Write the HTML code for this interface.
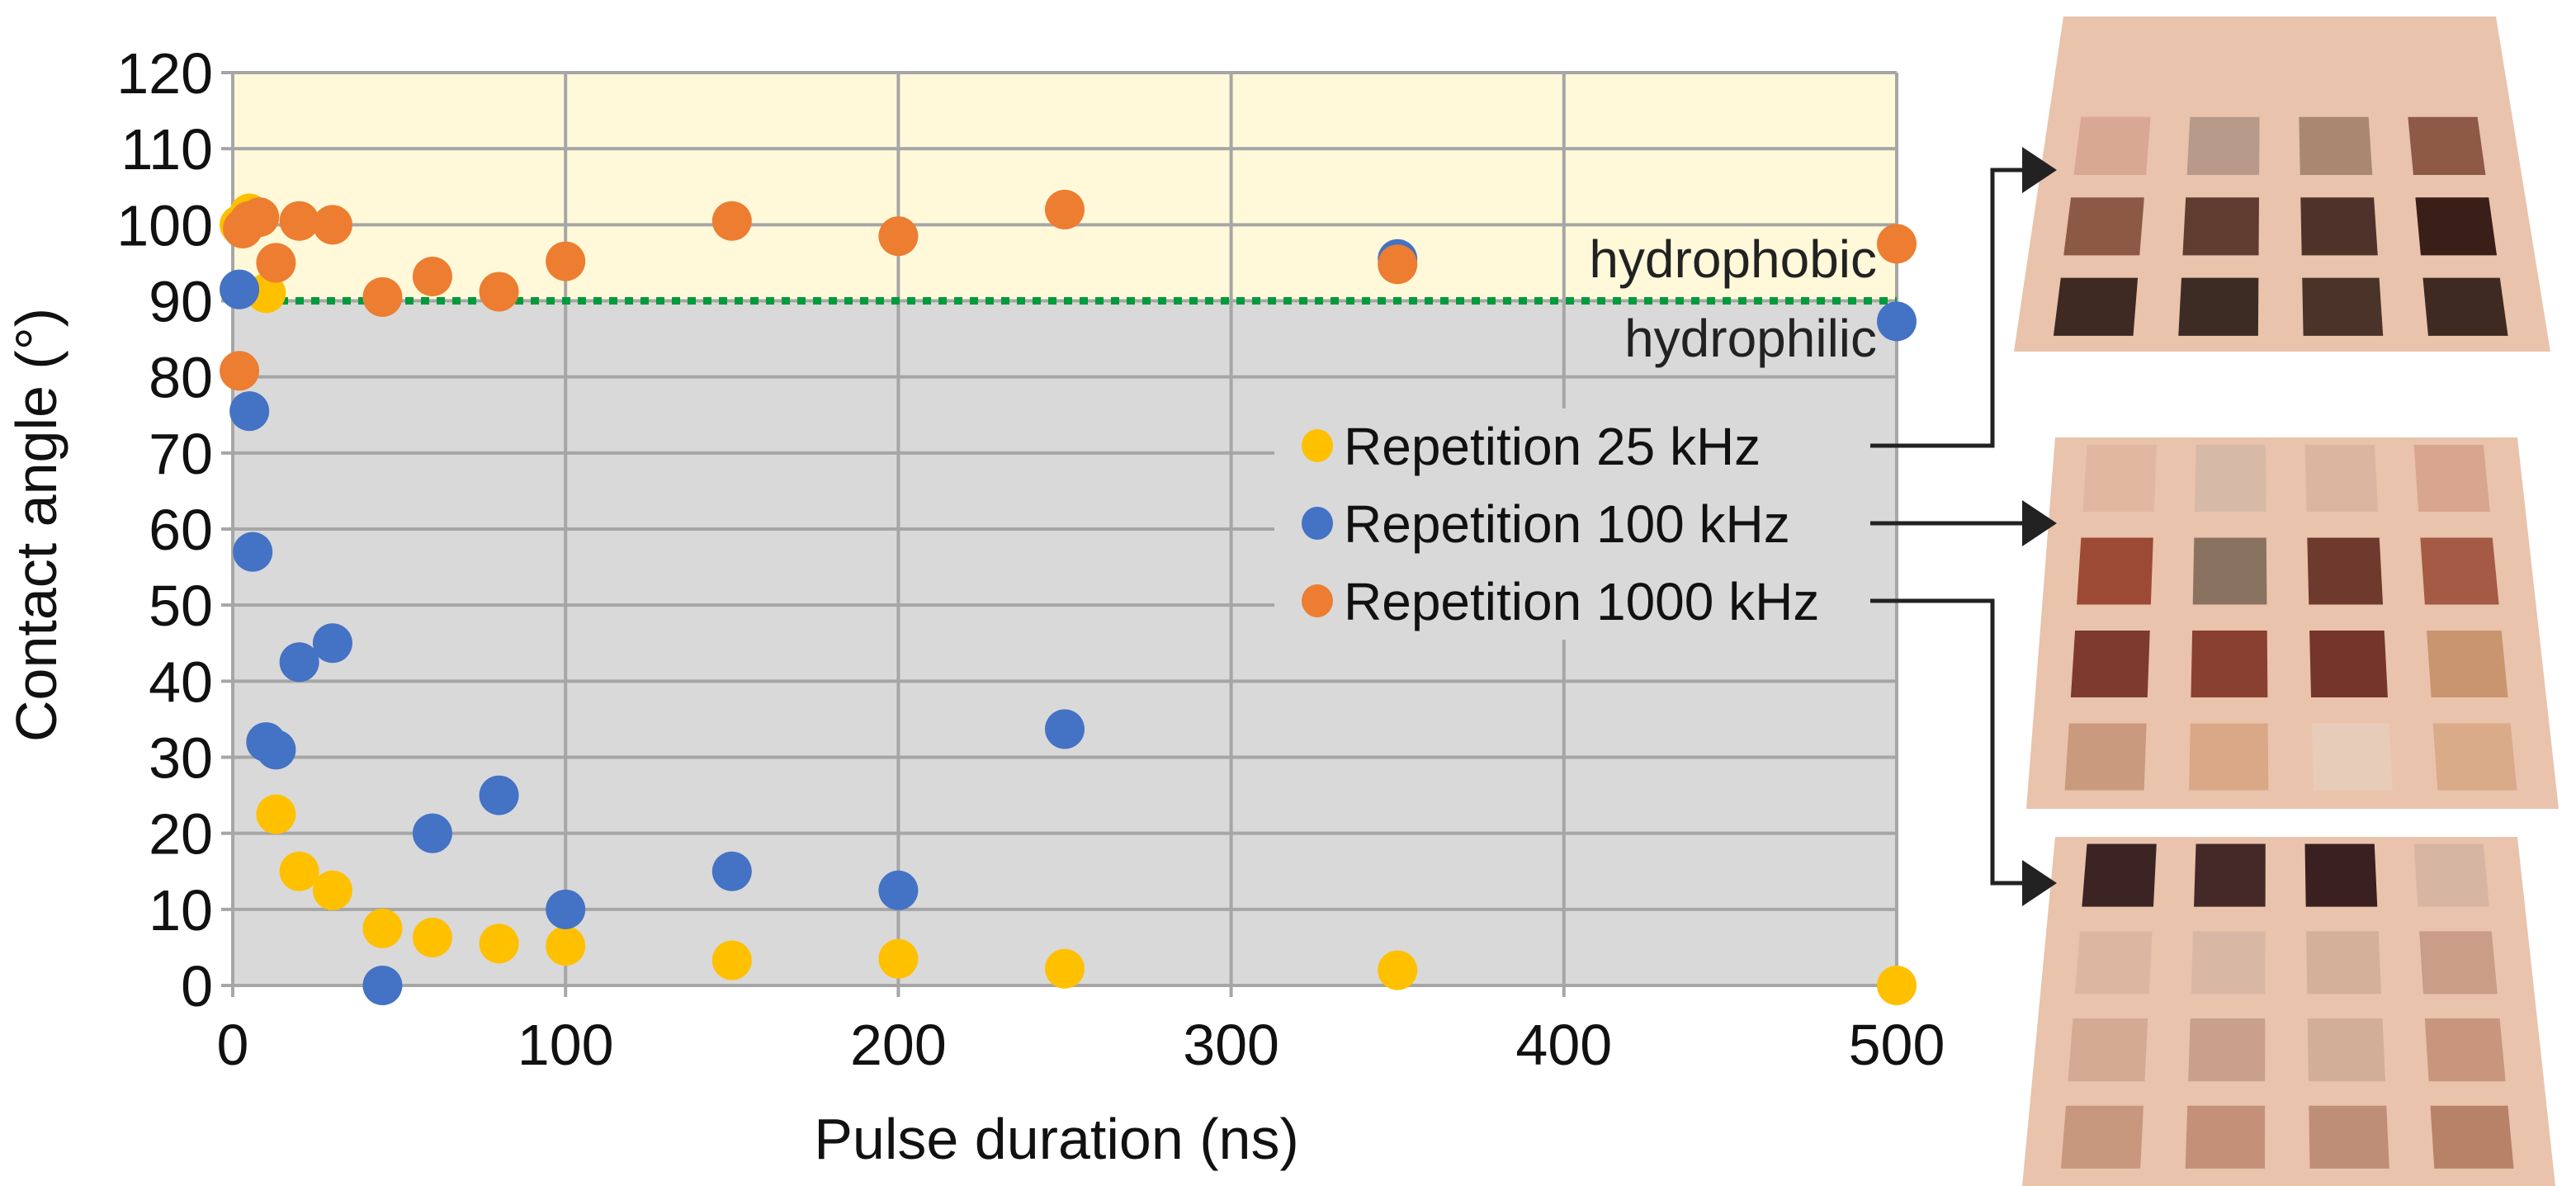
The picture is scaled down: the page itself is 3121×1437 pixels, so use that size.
<!DOCTYPE html>
<html><head><meta charset="utf-8"><style>
html,body{margin:0;padding:0;background:#fff;}
svg{display:block;font-family:"Liberation Sans",Arial,sans-serif;}
</style></head><body>
<svg id="chart" width="3121" height="1437" viewBox="0 0 3121 1437" xmlns="http://www.w3.org/2000/svg">
<g id="plot"></g>
<g id="photos"></g>
<g id="connectors"></g>
</svg>
<script>
const xTicks=[0,100,200,300,400,500];
const yTicks=[0,10,20,30,40,50,60,70,80,90,100,110,120];
const x25=[2,5,10,13,20,30,45,60,80,100,150,200,250,350,500];
const y25=[100,101.5,91,22.5,15,12.5,7.5,6.3,5.5,5.2,3.3,3.5,2.2,2,0];
const x100=[2,5,6,10,13,20,30,45,60,80,100,150,200,250,350,500];
const y100=[91.5,75.5,57,32,31,42.5,45,0,20,25,10,15,12.5,33.7,95.5,87.3];
const x1000=[2,3,5,8,13,20,30,45,60,80,100,150,200,250,350,500];
const y1000=[80.8,99.5,100.5,101,95,100.5,100,90.5,93.2,91.2,95.2,100.5,98.5,102,94.8,97.5];
const threshold=90;

const NS='http://www.w3.org/2000/svg';
const L=282,R=2298,T=88,B=1194;
const sx=v=>L+(v-0)/(500-0)*(R-L);
const sy=v=>B-(v-0)/(120-0)*(B-T);
function mk(tag,attrs,parent){const e=document.createElementNS(NS,tag);for(const k in attrs)e.setAttribute(k,attrs[k]);parent.appendChild(e);return e;}
const plot=document.getElementById('plot');

let r=mk('rect',{x:L,y:T,width:R-L,height:sy(threshold)-T,fill:'#fff9da'},plot);


r=mk('rect',{x:L,y:sy(threshold),width:R-L,height:B-sy(threshold),fill:'#d9d9d9'},plot);



yTicks.forEach(t=>{
  let g=mk('line',{x1:L-14,x2:R,y1:sy(t),y2:sy(t),stroke:'#a6a6a6','stroke-width':4},plot);
  
  
  let tx=mk('text',{x:L-24,y:sy(t)+25,'text-anchor':'end','font-size':70,fill:'#111'},plot);
  tx.textContent=t;
  
  
});
xTicks.forEach(t=>{
  let g=mk('line',{x1:sx(t),x2:sx(t),y1:T,y2:B+14,stroke:'#a6a6a6','stroke-width':4},plot);
  
  
  let tx=mk('text',{x:sx(t),y:B+96,'text-anchor':'middle','font-size':70,fill:'#111'},plot);
  tx.textContent=t;
  
  
});
r=mk('rect',{x:1544,y:495,width:R-1544-2,height:280,fill:'#d9d9d9'},plot);



let th=mk('line',{x1:L,x2:R,y1:sy(threshold),y2:sy(threshold),stroke:'#009a3e','stroke-width':9,'stroke-dasharray':'10 9'},plot);



let t1=mk('text',{x:2274,y:336,'text-anchor':'end','font-size':64,fill:'#222'},plot);t1.textContent='hydrophobic';


let t2=mk('text',{x:2274,y:432,'text-anchor':'end','font-size':64,fill:'#222'},plot);t2.textContent='hydrophilic';



function series(xs,ys,color,name){
  const g=mk('g',{},plot);
  
  
  xs.forEach((x,i)=>{
    const c=mk('ellipse',{cx:sx(x),cy:sy(ys[i]),rx:24,ry:24,fill:color},g);
    
    
  });
}
series(x25,y25,'#ffc000','series-25khz');
series(x100,y100,'#4472c4','series-100khz');
series(x1000,y1000,'#ed7d31','series-1000khz');

const legend=[['Repetition 25 kHz','#ffc000',540],['Repetition 100 kHz','#4472c4',634],['Repetition 1000 kHz','#ed7d31',728]];
legend.forEach(([lab,col,y])=>{
  const g=mk('g',{},plot);
  
  
  mk('ellipse',{cx:1596,cy:y,rx:19,ry:20,fill:col},g);
  const tx=mk('text',{x:1628,y:y+23,'font-size':64,fill:'#111'},g);tx.textContent=lab;
});

let ya=mk('text',{x:0,y:0,'font-size':70,'text-anchor':'middle',fill:'#111',transform:'translate(68,636) rotate(-90)'},plot);
ya.textContent='Contact angle (°)';


let xa=mk('text',{x:1280,y:1404,'font-size':70,'text-anchor':'middle',fill:'#111'},plot);
xa.textContent='Pulse duration (ns)';



const ph=document.getElementById('photos');
const cn=document.getElementById('connectors');
function conn(d,tipX,tipY,name){
  const g=mk('g',{},cn);
  
  
  mk('path',{d:d,fill:'none',stroke:'#222','stroke-width':5},g);
  mk('polygon',{points:`${tipX},${tipY} ${tipX-42},${tipY-28} ${tipX-42},${tipY+28}`,fill:'#222'},g);
}
conn('M2266 540 H2414 V206 H2460',2492,206,'connector-25khz');
conn('M2266 634 H2460',2492,634,'connector-100khz');
conn('M2266 728 H2414 V1070 H2460',2492,1070,'connector-1000khz');

function panel(tl,tr,br,bl,rows,cols,y0,colors,name){
  const g=mk('g',{},ph);
  
  
  mk('polygon',{points:[tl,tr,br,bl].map(p=>p.join(',')).join(' '),fill:'#e9c3ac'},g);
  const P=(u,v)=>[tl[0]*(1-u)*(1-v)+tr[0]*u*(1-v)+br[0]*u*v+bl[0]*(1-u)*v, tl[1]*(1-u)*(1-v)+tr[1]*u*(1-v)+br[1]*u*v+bl[1]*(1-u)*v];
  for(let i=0;i<rows;i++)for(let j=0;j<cols;j++){
    const u0=0.07+j*0.235,u1=u0+0.15,v0=y0+i*(1-y0)/rows+0.02,v1=v0+(1-y0)/rows*0.72;
    const pts=[P(u0,v0),P(u1,v0),P(u1,v1),P(u0,v1)];
    mk('polygon',{points:pts.map(p=>p.join(',')).join(' '),fill:colors[i][j]},g);
  }
}
panel([2500,20],[3024,20],[3090,426],[2440,426],3,4,0.28,[
 ['#d9a893','#b89a8a','#a9886f','#8e5a45'],
 ['#8c5a44','#603c30','#4f3229','#3a1e18'],
 ['#3e2a22','#3c2c24','#4a3328','#3f2a22']],'photo-25khz');
panel([2490,530],[3050,530],[3100,980],[2455,980],4,4,0.0,[
 ['#e2b79f','#d6b9a6','#dcb5a0','#d8a68e'],
 ['#9c4a35','#8a7260','#6e3a2e','#a55a45'],
 ['#7e3a2c','#8a4030','#76352a','#c9956f'],
 ['#c99a7d','#d8a887','#e6ccb9','#d9ab88']],'photo-100khz');
panel([2490,1014],[3050,1014],[3096,1437],[2450,1437],4,4,0.0,[
 ['#3c2424','#452828','#3a2020','#d6b6a2'],
 ['#dcb6a0','#d8b8a4','#d4b09a','#c99d86'],
 ['#d4aa92','#c9a08a','#d2ae98','#c8967c'],
 ['#c8987e','#c49078','#be8e76','#b88268']],'photo-1000khz');
</script>
</body></html>
